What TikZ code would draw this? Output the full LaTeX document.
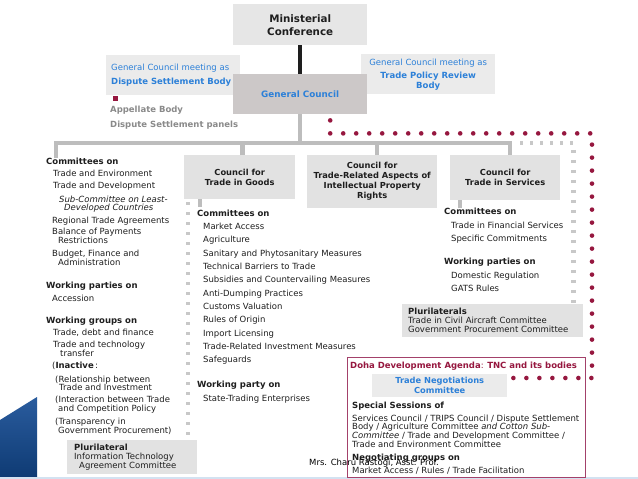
\documentclass[tikz,border=0pt]{standalone}
\usepackage{fontspec}
\setmainfont{DejaVu Sans}
\definecolor{inkblack}{HTML}{1E1E1E}
\definecolor{boxgray}{HTML}{E2E2E2}
\definecolor{paleboxgray}{HTML}{EBEBEB}
\definecolor{mcgray}{HTML}{E6E6E6}
\definecolor{gcgray}{HTML}{CCC8C8}
\definecolor{linkgray}{HTML}{BDBDBD}
\definecolor{dashgray}{HTML}{C8C8C8}
\definecolor{wtoblue}{HTML}{2C80D8}
\definecolor{wtomaroon}{HTML}{96173F}
\definecolor{dohaedge}{HTML}{A3416A}
\definecolor{panelgray}{HTML}{8A8A8A}
\definecolor{slideblue}{HTML}{0F3B74}
\definecolor{slidetop}{HTML}{2A5C9E}
\definecolor{paleblue}{HTML}{D3E2F1}
\newcommand\chartfont{\fontsize{8.5}{8.6}\selectfont}
\newcommand\boxfont{\fontsize{8.3}{10}\selectfont\bfseries}
\tikzset{
  box/.style={anchor=north west, inner sep=0, fill=boxgray, align=center,
              font=\boxfont, text=inkblack},
  {blue box/.style}={box, fill=paleboxgray, text=wtoblue},
  {box size/.style 2 args}={minimum width=#1pt, minimum height=#2pt},
  % lists are placed at the baseline of their last line
  list/.style={anchor=base west, inner sep=0, align=left,
               font=\chartfont, text=inkblack},
  link/.style={draw=linkgray, line width=4.5pt},
  {pluri link/.style}={draw=dashgray, line width=4.5pt,
                       dash pattern=on 3pt off 7pt},
  {doha link/.style}={draw=wtomaroon, line width=4.6pt, line cap=round,
                      dash pattern=on 0pt off 13pt},
}
\begin{document}
\begin{tikzpicture}[x=1pt,y=-1pt]
\useasboundingbox (0,0) rectangle (638,479);
\fill[white] (0,0) rectangle (638,479);

% slide corner
\shade[top color=slidetop, bottom color=slideblue]
  (0,420) -- (37,397) -- (37,477) -- (0,477) -- cycle;
\draw[paleblue, line width=1.5pt] (0,478) -- (638,478);

% top of the chart
\node[blue box, box size={134}{40}, align=left, text width=124pt,
      font=\chartfont] (dsb) at (106,55)
  {General Council meeting as\\[5.4pt]\textbf{Dispute Settlement Body}};
\node[blue box, box size={134}{40}, font=\chartfont] (tprb) at (361,54)
  {General Council meeting as\\[4.4pt]\textbf{Trade Policy Review}\\[1.4pt]\textbf{Body}};
\node[box, box size={134}{41}, fill=mcgray,
      font=\fontsize{10.3}{13}\selectfont\bfseries] (mc) at (233,4)
  {Ministerial\\Conference};
\node[blue box, box size={134}{40}, fill=gcgray,
      font=\fontsize{8.8}{10}\selectfont\bfseries] (gc) at (233,74)
  {General Council};
\draw[line width=4pt, inkblack] (mc.south) -- (gc.north);

\node[fill=wtomaroon, inner sep=0, minimum size=5pt, anchor=north west] (abmark) at (113,96) {};
\node[list, text=panelgray, font=\chartfont\bfseries] (panels) at (110,127)
  {Appellate Body\\[6.4pt]Dispute Settlement panels};

% councils
\node[box, box size={111}{44}] (goods) at (184,155) {Council for\\Trade in Goods};
\node[box, box size={130}{53}] (trips) at (307,155)
  {Council for\\Trade-Related Aspects of\\Intellectual Property\\Rights};
\node[box, box size={110}{45}] (services) at (450,155) {Council for\\Trade in Services};

% tree lines
\coordinate (busL) at (56,143);
\coordinate (gccomtop) at (56,158);
\draw[link] (gc.south) -- (gc.south |- busL);
\draw[link] (gccomtop) |- ([xshift=5pt]services.north |- busL) -- ([xshift=5pt]services.north);
\draw[link] ([xshift=3pt]goods.north) -- ([xshift=3pt]goods.north |- busL);
\draw[link] ([xshift=5pt]trips.north) -- ([xshift=5pt]trips.north |- busL);
\draw[link] ([xshift=16pt]goods.south west) -- ++(0,8);
\draw[link] ([xshift=10pt]services.south west) -- ++(0,8);

% general council bodies
\node[list] (gccom) at (46,265) {\textbf{Committees on}\\[3.4pt]
  \hspace*{7pt}Trade and Environment\\[3.4pt]
  \hspace*{7pt}Trade and Development\\[5.4pt]
  \hspace*{13pt}\textit{Sub-Committee on Least-}\\
  \hspace*{18pt}\textit{Developed Countries}\\[4.4pt]
  \hspace*{6pt}Regional Trade Agreements\\[2.4pt]
  \hspace*{6pt}Balance of Payments\\
  \hspace*{12pt}Restrictions\\[4.4pt]
  \hspace*{6pt}Budget, Finance and\\
  \hspace*{12pt}Administration};
\node[list] (gcparties) at (46,301) {\textbf{Working parties on}\\[4.4pt]
  \hspace*{6pt}Accession};
\node[list] (gcgroups) at (46,433) {\textbf{Working groups on}\\[3.4pt]
  \hspace*{7pt}Trade, debt and finance\\[3.4pt]
  \hspace*{7pt}Trade and technology\\
  \hspace*{14pt}transfer\\[3.4pt]
  \hspace*{6pt}(\textbf{Inactive}\,:\\[5.4pt]
  \hspace*{9pt}(Relationship between\\
  \hspace*{13pt}Trade and Investment\\[3.4pt]
  \hspace*{9pt}(Interaction between Trade\\
  \hspace*{12pt}and Competition Policy\\[4.4pt]
  \hspace*{9pt}(Transparency in\\
  \hspace*{12pt}Government Procurement)};
\node[box, box size={130}{34}, align=left, text width=116pt,
      font=\fontsize{8.5}{9}\selectfont] (ita) at (67,440)
  {\textbf{Plurilateral}\\Information Technology\\\hspace*{5pt}Agreement Committee};
\draw[pluri link] ([xshift=4pt]goods.south west) ++(0,3) -- ([xshift=4pt]goods.south west |- ita.north);

% goods council bodies
\node[list] (goodscom) at (197,216) {\textbf{Committees on}};
\foreach \entry [count=\n] in {Market Access, Agriculture,
    Sanitary and Phytosanitary Measures, Technical Barriers to Trade,
    Subsidies and Countervailing Measures, Anti-Dumping Practices,
    Customs Valuation, Rules of Origin, Import Licensing,
    Trade-Related Investment Measures, Safeguards}
  \node[list] (goodsitem\n) at (203,216+13.35*\n) {\entry};
\node[list] (goodsparty) at (197,401) {\textbf{Working party on}\\[5.4pt]
  \hspace*{6pt}State-Trading Enterprises};

% services council bodies
\node[list] (servcom) at (444,241) {\textbf{Committees on}\\[5.4pt]
  \hspace*{7pt}Trade in Financial Services\\[4.4pt]
  \hspace*{7pt}Specific Commitments};
\node[list] (servparties) at (444,291) {\textbf{Working parties on}\\[5.4pt]
  \hspace*{7pt}Domestic Regulation\\[4.4pt]
  \hspace*{7pt}GATS Rules};
\node[box, box size={181}{33}, align=left, text width=169pt,
      font=\fontsize{8.5}{9}\selectfont] (pluri) at (402,304)
  {\textbf{Plurilaterals}\\Trade in Civil Aircraft Committee\\Government Procurement Committee};
\draw[pluri link] ([xshift=15pt]services.north |- busL) -| ([xshift=-10pt]pluri.north east);

% doha development agenda
\node[draw=dohaedge, line width=1.2pt, fill=white, anchor=north west, inner sep=0,
      minimum width=238pt, minimum height=120pt] (doha) at (347,357) {};
\node[list, text=wtomaroon] (dohatitle) at (350,368)
  {\textbf{Doha Development Agenda}: \textbf{TNC and its bodies}};
\node[blue box, box size={135}{23}] (tnc) at (372,374) {Trade Negotiations\\Committee};
\node[list] (special) at (352,447) {\textbf{Special Sessions of}\\[4.4pt]
  Services Council / TRIPS Council / Dispute Settlement\\
  Body / Agriculture Committee \textit{and Cotton Sub-}\\
  \textit{Committee} / Trade and Development Committee /\\
  Trade and Environment Committee};
\node[list] (neggroups) at (352,473) {\textbf{Negotiating groups on}\\[4.4pt]
  Market Access / Rules / Trade Facilitation};

\coordinate (gcdot) at ([xshift=30pt,yshift=-6pt]gc.south);
\coordinate (dohacorner) at (592,378);
\coordinate (tncdot) at ([xshift=5pt,yshift=-4pt]tnc.north east);
\draw[doha link] (gcdot) -- ++(0,13) -| (dohacorner) -- (tncdot);

\node[anchor=base west, inner sep=0, font=\fontsize{8.5}{9}\selectfont] (credit) at (309,465)
  {Mrs. Charu Rastogi, Asst. Prof.};
\end{tikzpicture}
\end{document}
